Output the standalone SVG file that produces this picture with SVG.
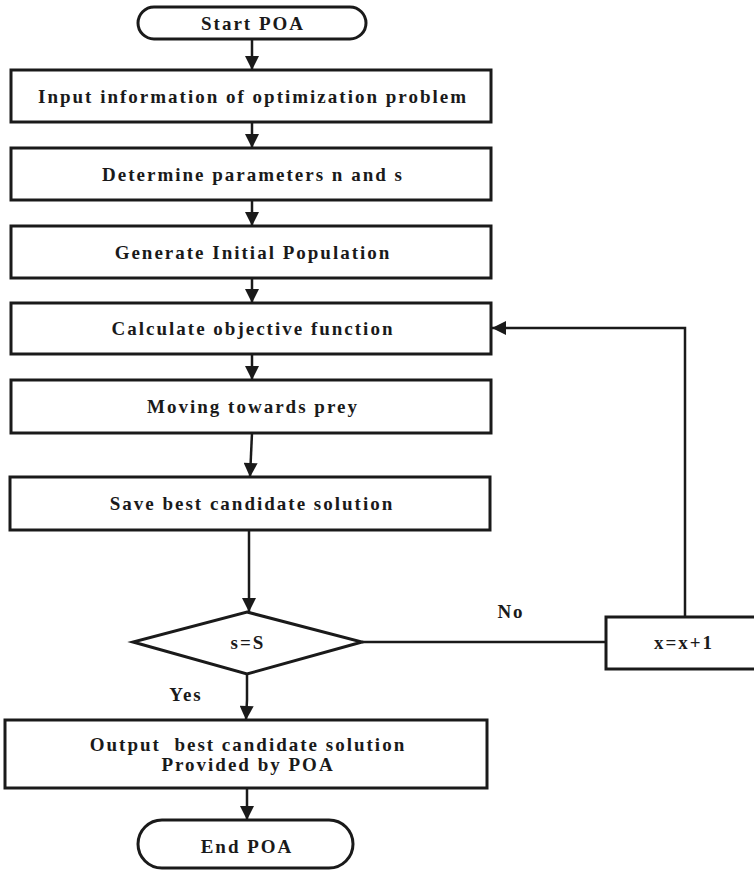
<svg xmlns="http://www.w3.org/2000/svg" width="754" height="872" viewBox="0 0 754 872">
<defs>
<style>
.n{fill:#fff;stroke:#1a1a1a;stroke-width:3}
.t{font-family:'Liberation Serif','DejaVu Serif',serif;font-weight:700;font-size:19px;letter-spacing:2px;fill:#1a1a1a;text-anchor:middle}
.c{fill:none;stroke:#1a1a1a;stroke-width:2.5}
</style>
<marker id="ah" viewBox="0 0 10 10" refX="10" refY="5" markerWidth="6" markerHeight="5.6" orient="auto" markerUnits="strokeWidth">
<path d="M0,0 L10,5 L0,10 z" fill="#1a1a1a"/>
</marker>
</defs>
<rect width="754" height="872" fill="#fff"/>
<g id="connectors">
<path class="c" d="M252,39 V70" marker-end="url(#ah)"/>
<path class="c" d="M252,122 V148" marker-end="url(#ah)"/>
<path class="c" d="M252,200 V226" marker-end="url(#ah)"/>
<path class="c" d="M252,278 V303" marker-end="url(#ah)"/>
<path class="c" d="M252,354 V380" marker-end="url(#ah)"/>
<path class="c" d="M252,433 L250,477" marker-end="url(#ah)"/>
<path class="c" d="M249,530 V612" marker-end="url(#ah)"/>
<path class="c" d="M247,674 V700 L246,720" marker-end="url(#ah)"/>
<path class="c" d="M247,788 V820" marker-end="url(#ah)"/>
<path class="c" d="M362,642 H606"/>
<path class="c" d="M685,616 V328 H492" marker-end="url(#ah)"/>
</g>
<g id="start"><rect class="n" x="138" y="7" width="228" height="32" rx="16"/><text class="t" x="253" y="30">Start POA</text></g>
<g id="input"><rect class="n" x="11" y="70" width="480" height="52"/><text class="t" x="253" y="103">Input information of optimization problem</text></g>
<g id="params"><rect class="n" x="11" y="148" width="480" height="52"/><text class="t" x="253" y="181">Determine parameters n and s</text></g>
<g id="init"><rect class="n" x="11" y="226" width="480" height="52"/><text class="t" x="253" y="259">Generate Initial Population</text></g>
<g id="calc"><rect class="n" x="11" y="303" width="480" height="51"/><text class="t" x="253" y="335">Calculate objective function</text></g>
<g id="move"><rect class="n" x="11" y="380" width="480" height="53"/><text class="t" x="253" y="413">Moving towards prey</text></g>
<g id="save"><rect class="n" x="10" y="477" width="480" height="53"/><text class="t" x="252" y="510">Save best candidate solution</text></g>
<g id="decision"><polygon class="n" points="247,612 362,642 247,674 133,642"/><text class="t" x="248" y="649">s=S</text></g>
<g id="incr"><rect class="n" x="606" y="617" width="152" height="52"/><text class="t" x="684" y="649">x=x+1</text></g>
<g id="labels"><text class="t" x="511" y="618">No</text><text class="t" x="186" y="701">Yes</text></g>
<g id="output"><rect class="n" x="5" y="720" width="482" height="68"/><text class="t" x="248" y="751" xml:space="preserve">Output  best candidate solution</text><text class="t" x="248" y="771">Provided by POA</text></g>
<g id="end"><rect class="n" x="138" y="820" width="215" height="48" rx="24"/><text class="t" x="247" y="853">End POA</text></g>
</svg>
